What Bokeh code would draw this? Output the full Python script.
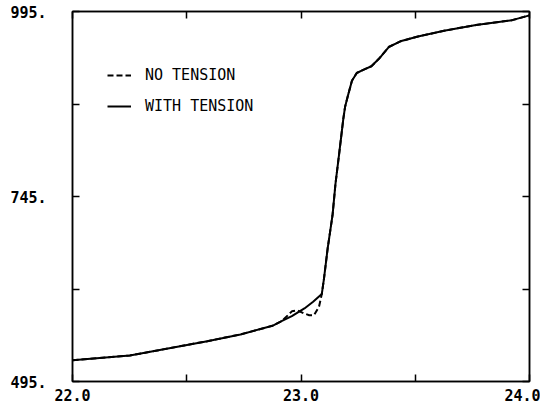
from bokeh.plotting import figure
from bokeh.models import FixedTicker, LinearAxis, Range1d, Legend, LegendItem
from bokeh.embed import file_html
from bokeh.resources import INLINE

# With tension curve
x_with = [22.000, 22.251, 22.501, 22.590, 22.735, 22.875, 22.917, 22.960, 23.015,
          23.053, 23.091, 23.100, 23.117, 23.138, 23.151, 23.168, 23.185, 23.193,
          23.206, 23.223, 23.244, 23.270, 23.308, 23.342, 23.384, 23.435, 23.512,
          23.626, 23.766, 23.924, 24.000]
y_with = [523.6, 530.1, 544.4, 549.5, 558.6, 570.3, 576.8, 583.3, 593.7,
          602.8, 613.2, 632.7, 675.5, 719.7, 762.5, 805.4, 849.5, 866.4,
          882.0, 901.5, 911.9, 915.8, 921.0, 931.4, 947.0, 954.7, 961.2,
          969.0, 976.8, 983.3, 989.8]

# No tension curve (differs near the step)
x_none = [22.000, 22.251, 22.501, 22.590, 22.735, 22.875, 22.917, 22.960, 22.985,
          23.011, 23.036, 23.057, 23.079, 23.091, 23.100, 23.117, 23.138, 23.151,
          23.168, 23.185, 23.193, 23.206, 23.223, 23.244, 23.270, 23.308, 23.342,
          23.384, 23.435, 23.512, 23.626, 23.766, 23.924, 24.000]
y_none = [523.6, 530.1, 544.4, 549.5, 558.6, 570.3, 576.8, 589.8, 591.1,
          587.2, 584.6, 584.6, 596.3, 613.2, 632.7, 675.5, 719.7, 762.5,
          805.4, 849.5, 866.4, 882.0, 901.5, 911.9, 915.8, 921.0, 931.4,
          947.0, 954.7, 961.2, 969.0, 976.8, 983.3, 989.8]

x_labels = [22.0, 23.0, 24.0]
x_minor = [22.5, 23.5]
y_labels = [495, 745, 995]
y_minor = [620, 870]

FONT = "DejaVu Sans Mono"

p = figure(width=540, height=404, output_backend="svg", toolbar_location=None,
           x_range=Range1d(22.0, 24.0), y_range=Range1d(495, 995),
           min_border_left=72, min_border_right=11, min_border_top=11, min_border_bottom=23,
           x_axis_location=None, y_axis_location=None)
p.grid.visible = False
p.outline_line_color = "black"
p.outline_line_width = 1.5
p.background_fill_color = "white"
p.border_fill_color = "white"

def style_axis(ax, ticks, minor, labels=True):
    ax.ticker = FixedTicker(ticks=ticks, minor_ticks=minor)
    ax.axis_line_color = "black"
    ax.axis_line_width = 1.5
    ax.major_tick_in = 7
    ax.major_tick_out = 0
    ax.minor_tick_in = 7
    ax.minor_tick_out = 0
    ax.major_tick_line_width = 1.5
    ax.minor_tick_line_width = 1.5
    ax.major_tick_line_color = "black"
    ax.minor_tick_line_color = "black"
    ax.major_label_text_font = FONT
    ax.major_label_text_font_size = "15px"
    ax.major_label_text_font_style = "bold"
    ax.major_label_text_color = "black"
    if not labels:
        ax.major_label_overrides = {v: "" for v in ticks}
        ax.major_label_standoff = 0

bx = LinearAxis()
style_axis(bx, x_labels, x_minor)
bx.major_label_overrides = {v: f"{v:.1f}" for v in x_labels}
bx.major_label_standoff = 7
p.add_layout(bx, "below")

lx = LinearAxis()
style_axis(lx, y_labels, y_minor)
lx.major_label_overrides = {v: f"{v}." for v in y_labels}
lx.major_label_standoff = 26
p.add_layout(lx, "left")

tx = LinearAxis()
style_axis(tx, x_labels, x_minor, labels=False)
p.add_layout(tx, "above")

rx = LinearAxis()
style_axis(rx, y_labels, y_minor, labels=False)
p.add_layout(rx, "right")

r_none = p.line(x_none, y_none, line_color="black", line_width=2, line_dash="6 3")
r_with = p.line(x_with, y_with, line_color="black", line_width=2)

legend = Legend(items=[LegendItem(label="NO TENSION", renderers=[r_none]),
                       LegendItem(label="WITH TENSION", renderers=[r_with])])
legend.label_text_font = FONT
legend.label_text_font_size = "15px"
legend.label_text_color = "black"
legend.border_line_color = None
legend.background_fill_alpha = 0
legend.glyph_width = 24
legend.label_standoff = 14
legend.spacing = 11
legend.margin = 0
legend.padding = 0
legend.location = (35, 265)
p.add_layout(legend, "center")

open("out.html", "w").write(file_html(p, INLINE))
